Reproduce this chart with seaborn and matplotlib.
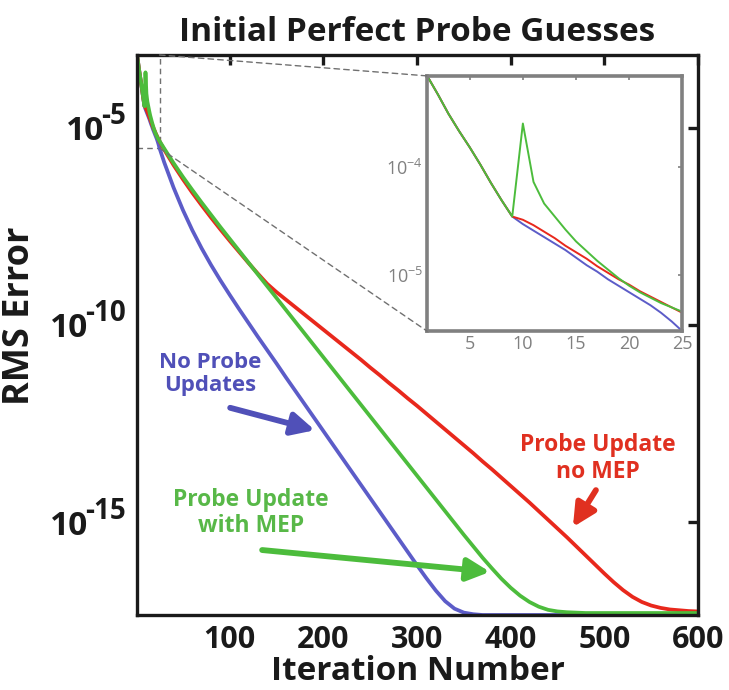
import numpy as np
import pandas as pd
import matplotlib
matplotlib.use("Agg")
import matplotlib.pyplot as plt
from matplotlib.patches import Rectangle, ConnectionPatch
from matplotlib.transforms import blended_transform_factory, offset_copy
import seaborn as sns

# Iteration grid: every iteration up to 25, then every 10 iterations
iterations = list(range(1, 26)) + list(range(30, 601, 10))

# RMS error, stored as log10 exponents (decades)
common_start = [-3.16, -3.33, -3.51, -3.67, -3.82, -3.98, -4.15, -4.31, -4.46]

log_err_no_update = common_start + [
    -4.53, -4.59, -4.65, -4.71, -4.77, -4.84, -4.91, -4.97, -5.04, -5.10,
    -5.16, -5.22, -5.28, -5.35, -5.43, -5.52,
    -5.88, -6.52, -7.09, -7.60, -8.06, -8.48, -8.87, -9.24, -9.60, -9.95,
    -10.30, -10.64, -10.98, -11.33, -11.67, -12.01, -12.35, -12.69, -13.03, -13.37,
    -13.71, -14.05, -14.39, -14.73, -15.07, -15.41, -15.75, -16.09, -16.42, -16.73,
    -17.00, -17.19, -17.29, -17.33, -17.35] + [-17.35] * 23

log_err_update_mep = common_start + [
    -3.60, -4.14, -4.34, -4.46, -4.58, -4.69, -4.78, -4.87, -4.95, -5.03,
    -5.10, -5.16, -5.21, -5.26, -5.30, -5.34,
    -5.53, -5.90, -6.25, -6.58, -6.90, -7.21, -7.52, -7.82, -8.12, -8.42,
    -8.72, -9.02, -9.32, -9.62, -9.92, -10.22, -10.52, -10.82, -11.12, -11.42,
    -11.72, -12.02, -12.32, -12.62, -12.92, -13.22, -13.52, -13.82, -14.12, -14.42,
    -14.72, -15.02, -15.32, -15.61, -15.90, -16.17, -16.43, -16.66, -16.86, -17.02,
    -17.14, -17.22, -17.26, -17.28, -17.29] + [-17.30] * 13

log_err_update_no_mep = common_start + [
    -4.49, -4.54, -4.60, -4.66, -4.73, -4.79, -4.85, -4.92, -4.98, -5.04,
    -5.09, -5.15, -5.20, -5.25, -5.30, -5.35,
    -5.56, -5.95, -6.31, -6.65, -6.97, -7.28, -7.58, -7.87, -8.15, -8.43,
    -8.70, -8.96, -9.17, -9.36, -9.55, -9.74, -9.93, -10.12, -10.31, -10.50,
    -10.69, -10.88, -11.08, -11.27, -11.47, -11.66, -11.86, -12.05, -12.25, -12.45,
    -12.65, -12.85, -13.05, -13.25, -13.46, -13.66, -13.87, -14.08, -14.29, -14.50,
    -14.72, -14.94, -15.16, -15.38, -15.61, -15.84, -16.07, -16.30, -16.52, -16.72,
    -16.89, -17.02, -17.11, -17.17, -17.21, -17.23, -17.25, -17.26]

series_names = ["No Probe Updates", "Probe Update no MEP", "Probe Update with MEP"]
series_logs = [log_err_no_update, log_err_update_no_mep, log_err_update_mep]
series_colors = ["#5c5cc8", "#e8281c", "#4cbc3c"]

main_yticks = [1e-5, 1e-10, 1e-15]
main_ytick_exponents = ["-5", "-10", "-15"]
main_xticks = [100, 200, 300, 400, 500, 600]
inset_xticks = [5, 10, 15, 20, 25]
inset_yticks = [1e-4, 1e-5]
inset_yticklabels = [r"$\mathsf{10^{-4}}$", r"$\mathsf{10^{-5}}$"]

frames = []
for name, logs in zip(series_names, series_logs):
    frames.append(pd.DataFrame({"Iteration": iterations,
                                "RMS": 10.0 ** np.array(logs),
                                "Series": name}))
df = pd.concat(frames, ignore_index=True)
palette = dict(zip(series_names, series_colors))

sns.set_style("white")
plt.rcParams["font.family"] = ["Open Sans", "DejaVu Sans"]
plt.rcParams["mathtext.fontset"] = "custom"
plt.rcParams["mathtext.rm"] = "Open Sans:bold"
plt.rcParams["mathtext.bf"] = "Open Sans:bold"
plt.rcParams["mathtext.sf"] = "Open Sans"

INK = "#1a1a1a"
fig = plt.figure(figsize=(7.29, 6.90), dpi=100)
ax = fig.add_axes([0.188, 0.1087, 0.7695, 0.8116])

sns.lineplot(data=df, x="Iteration", y="RMS", hue="Series", hue_order=series_names,
             palette=palette, linewidth=2.7, legend=False, ax=ax, estimator=None)
ax.set_yscale("log")
ymin, ymax = df["RMS"].min(), df["RMS"].max()
ax.set_xlim(1, 600)
ax.set_ylim(ymin, ymax)
ax.set_xticks(main_xticks)
ax.set_xticklabels([str(t) for t in main_xticks], fontsize=22, fontweight="bold", color=INK)
ax.set_yticks(main_yticks)
ax.set_yticklabels([])
ax.yaxis.set_minor_locator(matplotlib.ticker.NullLocator())
ax.tick_params(direction="in", length=7, width=2.4, top=True, right=True,
               colors=INK, pad=7)
for sp in ax.spines.values():
    sp.set_color(INK)
    sp.set_linewidth(2.4)
ax.set_xlabel("Iteration Number", fontsize=24, fontweight="bold", labelpad=0, color=INK)
ax.set_ylabel("RMS Error", fontsize=26, fontweight="bold", color=INK)
ax.yaxis.set_label_coords(-0.176, 0.535)
ax.set_title("Initial Perfect Probe Guesses", fontsize=24, fontweight="bold", pad=10, color=INK)

# Power-of-ten tick labels with a large superscript exponent
fig.canvas.draw()
renderer = fig.canvas.get_renderer()
ytrans = blended_transform_factory(ax.transAxes, ax.transData)
for v, ex in zip(main_yticks, main_ytick_exponents):
    t_exp = ax.text(0, v, ex, fontsize=20, fontweight="bold", color=INK, ha="right", va="center",
                    transform=offset_copy(ytrans, fig=fig, x=-11, y=11, units="dots"))
    w = t_exp.get_window_extent(renderer).width
    ax.text(0, v, "10", fontsize=24, fontweight="bold", color=INK, ha="right", va="center",
            transform=offset_copy(ytrans, fig=fig, x=-11 - w + 3, y=-4, units="dots"))

# Annotations with arrows
arrow_kw = dict(arrowstyle="-|>", lw=4.2, mutation_scale=34, shrinkA=0, shrinkB=0)
ax.text(0.130, 0.430, "No Probe\nUpdates", transform=ax.transAxes, ha="center", va="center",
        fontsize=16, fontweight="bold", color="#5050b8", linespacing=1.15)
ax.annotate("", xy=(0.317, 0.330), xytext=(0.166, 0.370), xycoords="axes fraction",
            arrowprops=dict(color="#5050b8", **arrow_kw))
ax.text(0.203, 0.182, "Probe Update\nwith MEP", transform=ax.transAxes, ha="center", va="center",
        fontsize=16.5, fontweight="bold", color="#58b848", linespacing=1.15)
ax.annotate("", xy=(0.629, 0.077), xytext=(0.223, 0.116), xycoords="axes fraction",
            arrowprops=dict(color="#4cbc3c", **arrow_kw))
ax.text(0.822, 0.279, "Probe Update\nno MEP", transform=ax.transAxes, ha="center", va="center",
        fontsize=16.5, fontweight="bold", color="#e03020", linespacing=1.15)
ax.annotate("", xy=(0.777, 0.157), xytext=(0.818, 0.223), xycoords="axes fraction",
            arrowprops=dict(color="#e03020", **arrow_kw))

# Zoomed view of the first 25 iterations
early = df[df["Iteration"] <= 25]
ax_in = fig.add_axes([0.586, 0.520, 0.350, 0.370])
sns.lineplot(data=early, x="Iteration", y="RMS", hue="Series", hue_order=series_names,
             palette=palette, linewidth=1.4, legend=False, ax=ax_in, estimator=None)
ax_in.set_yscale("log")
in_min, in_max = early["RMS"].min(), early["RMS"].max()
ax_in.set_xlim(1, 25)
ax_in.set_ylim(in_min, in_max)
ax_in.set_xticks(inset_xticks)
ax_in.set_xticklabels([str(t) for t in inset_xticks], fontsize=13, color="#6e6e6e")
ax_in.set_yticks(inset_yticks)
ax_in.set_yticklabels(inset_yticklabels, fontsize=13, color="#6e6e6e")
ax_in.yaxis.set_minor_locator(matplotlib.ticker.NullLocator())
ax_in.set_xlabel("")
ax_in.set_ylabel("")
ax_in.tick_params(direction="in", length=3, width=1.2, top=True, right=True,
                  colors="#808080", pad=3)
for sp in ax_in.spines.values():
    sp.set_color("#808080")
    sp.set_linewidth(2.6)

# Dashed box marking the zoomed region and connector lines
ax.add_patch(Rectangle((1, in_min), 24, in_max - in_min, fill=False, ls=(0, (4, 3)),
                       lw=1.0, ec="#707070", zorder=1))
for (xa, ya), (xb, yb) in [((25, in_max), (1, in_max)), ((25, in_min), (1, in_min))]:
    con = ConnectionPatch(xyA=(xa, ya), coordsA=ax.transData, xyB=(xb, yb), coordsB=ax_in.transData,
                          ls=(0, (4, 3)), lw=1.0, color="#707070", zorder=1)
    fig.add_artist(con)

fig.savefig("out.png", dpi=100)
